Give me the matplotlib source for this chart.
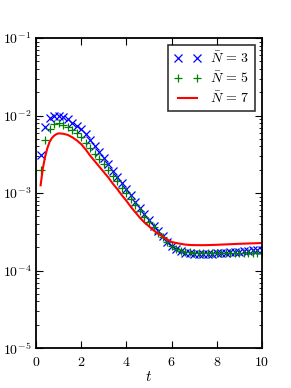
import numpy as np
import matplotlib
matplotlib.use('Agg')
import matplotlib.pyplot as plt
from matplotlib.ticker import FixedLocator, LogLocator, NullFormatter

plt.rcParams['mathtext.fontset'] = 'cm'
plt.rcParams['font.family'] = 'serif'
plt.rcParams['font.serif'] = ['DejaVu Serif']

# sample times for the marker series
t_mark = [0.2, 0.4, 0.6, 0.8, 1.0, 1.2, 1.4, 1.6, 1.8, 2.0,
          2.2, 2.4, 2.6, 2.8, 3.0, 3.2, 3.4, 3.6, 3.8, 4.0,
          4.2, 4.4, 4.6, 4.8, 5.0, 5.2, 5.4, 5.6, 5.8, 6.0,
          6.2, 6.4, 6.6, 6.8, 7.0, 7.2, 7.4, 7.6, 7.8, 8.0,
          8.2, 8.4, 8.6, 8.8, 9.0, 9.2, 9.4, 9.6, 9.8, 10.0]

# log10 of error, N=3
log_n3 = [-2.51, -2.15, -2.03, -2.00, -2.00, -2.02, -2.05, -2.09, -2.135, -2.18,
          -2.24, -2.31, -2.39, -2.47, -2.55, -2.63, -2.71, -2.79, -2.87, -2.95,
          -3.03, -3.11, -3.19, -3.27, -3.35, -3.42, -3.49, -3.56, -3.63, -3.68,
          -3.72, -3.75, -3.77, -3.78, -3.785, -3.79, -3.79, -3.79, -3.785, -3.78,
          -3.775, -3.77, -3.765, -3.76, -3.755, -3.75, -3.745, -3.74, -3.735, -3.73]

# log10 of error, N=5
log_n5 = [-2.70, -2.32, -2.17, -2.11, -2.10, -2.12, -2.15, -2.19, -2.23, -2.28,
          -2.35, -2.42, -2.49, -2.56, -2.63, -2.70, -2.78, -2.85, -2.93, -3.00,
          -3.08, -3.16, -3.23, -3.31, -3.37, -3.44, -3.51, -3.57, -3.63, -3.68,
          -3.72, -3.745, -3.76, -3.765, -3.77, -3.77, -3.772, -3.772, -3.772, -3.771,
          -3.771, -3.770, -3.770, -3.770, -3.769, -3.769, -3.769, -3.768, -3.768, -3.768]

# N=7 line
t_line = [0.2, 0.3, 0.4, 0.5, 0.6, 0.7, 0.8, 0.9, 1.0, 1.2, 1.4, 1.6, 1.8, 2.0,
          2.2, 2.4, 2.6, 2.8, 3.0, 3.2, 3.4, 3.6, 3.8, 4.0, 4.2, 4.4, 4.6, 4.8,
          5.0, 5.2, 5.4, 5.6, 5.8, 6.0, 6.2, 6.4, 6.6, 6.8, 7.0, 7.4, 8.0, 9.0, 10.0]
log_n7 = [-2.90, -2.68, -2.53, -2.42, -2.34, -2.29, -2.26, -2.24, -2.23, -2.235,
          -2.25, -2.28, -2.32, -2.37, -2.44, -2.52, -2.59, -2.66, -2.73, -2.80,
          -2.88, -2.95, -3.03, -3.10, -3.18, -3.25, -3.32, -3.38, -3.43, -3.48,
          -3.525, -3.56, -3.60, -3.63, -3.645, -3.655, -3.665, -3.67, -3.672, -3.673,
          -3.668, -3.655, -3.645]

fig = plt.figure(figsize=(2.91, 3.88), dpi=100)
ax = fig.add_axes([0.124, 0.103, 0.776, 0.799])

ax.semilogy(t_mark, 10 ** np.array(log_n3), 'x', color='blue', ms=6, mew=0.9,
            label=r'$\bar{N}\,=\,3$')
ax.semilogy(t_mark, 10 ** np.array(log_n5), '+', color=(0, 0.5, 0), ms=6, mew=0.9,
            label=r'$\bar{N}\,=\,5$')
ax.semilogy(t_line, 10 ** np.array(log_n7), '-', color='red', lw=1.5,
            label=r'$\bar{N}\,=\,7$')

ax.set_xlim(0, 10)
ax.set_ylim(1e-5, 1e-1)
ax.xaxis.set_major_locator(FixedLocator([0, 2, 4, 6, 8, 10]))
ax.set_xticklabels([r'$0$', r'$2$', r'$4$', r'$6$', r'$8$', r'$10$'])
ax.yaxis.set_major_locator(FixedLocator([1e-5, 1e-4, 1e-3, 1e-2, 1e-1]))
ax.set_yticklabels([r'$10^{-5}$', r'$10^{-4}$', r'$10^{-3}$', r'$10^{-2}$', r'$10^{-1}$'])
ax.yaxis.set_minor_locator(LogLocator(base=10, subs=np.arange(2, 10), numticks=20))
ax.yaxis.set_minor_formatter(NullFormatter())
ax.tick_params(which='both', direction='in', top=True, right=True, labelsize=10)
ax.tick_params(which='major', length=5, width=0.8)
ax.tick_params(which='minor', length=2.5, width=0.6)
ax.tick_params(axis='x', pad=5)
for s in ax.spines.values():
    s.set_linewidth(1.3)

ax.set_xlabel(r'$t$', fontsize=11, labelpad=1)

leg = ax.legend(loc='upper right', numpoints=2, fancybox=False, fontsize=10,
                borderaxespad=0.5, handlelength=2.0, handletextpad=0.6,
                labelspacing=0.35)
leg.get_frame().set_edgecolor('black')
leg.get_frame().set_linewidth(1.2)

fig.savefig('out.png', dpi=100)
